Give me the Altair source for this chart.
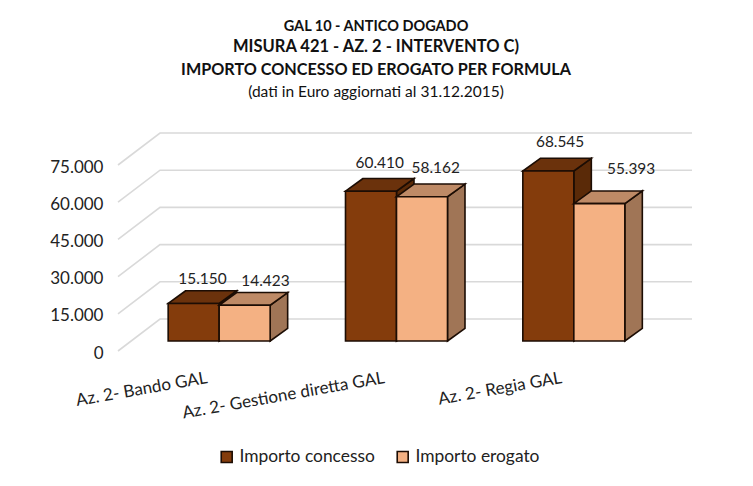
import altair as alt
import pandas as pd

categories = ["Az. 2- Bando GAL", "Az. 2- Gestione diretta GAL", "Az. 2- Regia GAL"]
series_names = ["Importo concesso", "Importo erogato"]
concesso = [15150, 60410, 68545]
erogato = [14423, 58162, 55393]
axis_ticks = [0, 15000, 30000, 45000, 60000, 75000]
title_lines = ["GAL 10 - ANTICO DOGADO", "MISURA 421 - AZ. 2 - INTERVENTO C)",
               "IMPORTO CONCESSO ED EROGATO PER FORMULA", "(dati in Euro aggiornati al 31.12.2015)"]

FONT = "Lato"
INK = "#1c0d04"
W, H = 574, 231
PXX = 177.33            # pixels per category
PXY = 37.2 / 15000      # pixels per euro
XDOM = W / PXX
YDOM = H / PXY

def ux(px): return px / PXX
def uy(px): return px / PXY

HALF = ux(51)           # width of one bar
DEPTH_X, DEPTH_Y = ux(17.5), uy(12.7)
FLOOR_X, FLOOR_Y = ux(42), uy(32)
INSET_X, INSET_Y = ux(12.5), uy(10)

xs = alt.Scale(domain=[0, XDOM], range=[0, W], nice=False, zero=False)
ys = alt.Scale(domain=[0, YDOM], range=[H, 0], nice=False, zero=False)
yax = alt.Axis(values=axis_ticks, domain=False, ticks=False, grid=False, title=None,
               labelExpr="replace(format(datum.value, ','), ',', '.')",
               labelFont=FONT, labelFontSize=17, labelColor="#222222", labelPadding=15, labelOffset=2)

def X(f="x:Q"):
    return alt.X(f, scale=xs, axis=None)

def Y(f="y:Q"):
    return alt.Y(f, scale=ys, axis=yax)

# grid
grid_rows = []
for t in axis_ticks:
    grid_rows += [dict(t=t, x=0, y=t), dict(t=t, x=FLOOR_X, y=t + FLOOR_Y), dict(t=t, x=XDOM, y=t + FLOOR_Y)]
grid = alt.Chart(pd.DataFrame(grid_rows)).mark_line(color="#d9d9d9", strokeWidth=1.6).encode(
    x=X(), y=Y(), detail="t:N", order="x:Q")

def faces(values, k):
    top_rows, side_rows, front_rows = [], [], []
    for i, v in enumerate(values):
        mid = i + 0.5 + INSET_X
        xl = mid - HALF + k * HALF
        xr = xl + HALF
        base = INSET_Y
        top = base + v
        front_rows.append(dict(x=xl, x2=xr, y=base, y2=top, serie=series_names[k]))
        top_rows += [dict(c=i, y=top, x=xl, x2=xr), dict(c=i, y=top + DEPTH_Y, x=xl + DEPTH_X, x2=xr + DEPTH_X)]
        side_rows += [dict(c=i, x=xr, y=base, y2=top), dict(c=i, x=xr + DEPTH_X, y=base + DEPTH_Y, y2=top + DEPTH_Y)]
    return pd.DataFrame(top_rows), pd.DataFrame(side_rows), pd.DataFrame(front_rows)

palette = [("#843c0c", "#6b320c", "#5a2a08"), ("#f4b183", "#be8a66", "#a07556")]
layers = [grid]
for k, vals in enumerate([concesso, erogato]):
    t_df, s_df, f_df = faces(vals, k)
    layers.append(alt.Chart(s_df).mark_area(fill=palette[k][2], stroke=INK, strokeWidth=1.6, orient="vertical").encode(
        x=X(), y=Y(), y2="y2:Q", detail="c:N"))
    layers.append(alt.Chart(t_df).mark_area(fill=palette[k][1], stroke=INK, strokeWidth=1.6, orient="horizontal").encode(
        y=Y(), x=X(), x2="x2:Q", detail="c:N"))
    layers.append(alt.Chart(f_df).mark_rect(stroke=INK, strokeWidth=1.6).encode(
        x=X(), x2="x2:Q", y=Y(), y2="y2:Q",
        color=alt.Color("serie:N", scale=alt.Scale(domain=series_names, range=[palette[0][0], palette[1][0]]),
                        legend=alt.Legend(orient="none", legendX=100, legendY=328, direction="horizontal",
                                          title=None, symbolType="square", symbolSize=120,
                                          symbolStrokeColor=INK, symbolStrokeWidth=1.6,
                                          labelFont=FONT, labelFontSize=17.4, labelColor="#222222",
                                          columnPadding=19, labelOffset=4))))

# data labels (hand-placed nudges in pixels, right and up, from the top-back centre of each bar)
nudges = {0: [(0, 12), (12, 12)], 1: [(0, 15), (5, 16)], 2: [(3, 16), (23, 22)]}
lab_rows = []
for k, vals in enumerate([concesso, erogato]):
    for i, v in enumerate(vals):
        nx, ny = nudges[i][k]
        mid = i + 0.5 + INSET_X
        lab_rows.append(dict(x=mid - HALF + k * HALF + HALF / 2 + DEPTH_X / 2 + ux(nx),
                             y=INSET_Y + v + DEPTH_Y + uy(ny),
                             t=f"{v:,}".replace(",", ".")))
labels = alt.Chart(pd.DataFrame(lab_rows)).mark_text(font=FONT, fontSize=15.4, color="#222222", baseline="middle").encode(
    x=X(), y=Y(), text="t:N")
layers.append(labels)

# category labels
cat_df = pd.DataFrame({"c": categories, "x": [i + 0.5 + INSET_X - ux(12) for i in range(3)]})
cats = alt.Chart(cat_df).mark_text(font=FONT, fontSize=17, color="#222222", align="right", baseline="middle", angle=350).encode(
    x=X(), y=alt.value(258), text="c:N")
layers.append(cats)

# titles
title_y = [27, 47, 70, 92]
title_size = [14.5, 16.5, 16.2, 15.5]
title_w = ["bold", "bold", "bold", "normal"]
for s, yy, sz, wt in zip(title_lines, title_y, title_size, title_w):
    layers.append(alt.Chart(pd.DataFrame({"t": [s]})).mark_text(
        font=FONT, fontSize=sz, fontWeight=wt, color="#111111", baseline="middle").encode(
        x=alt.value(258), y=alt.value(yy - 120), text="t:N"))

chart = alt.layer(*layers).properties(
    width=W, height=H,
    background="white",
    padding={"left": 110, "top": 112, "right": 53, "bottom": 127},
    autosize=alt.AutoSizeParams(type="none"),
).configure_view(stroke=None)

chart.save("out.html", embed_options={"renderer": "svg", "actions": False})
